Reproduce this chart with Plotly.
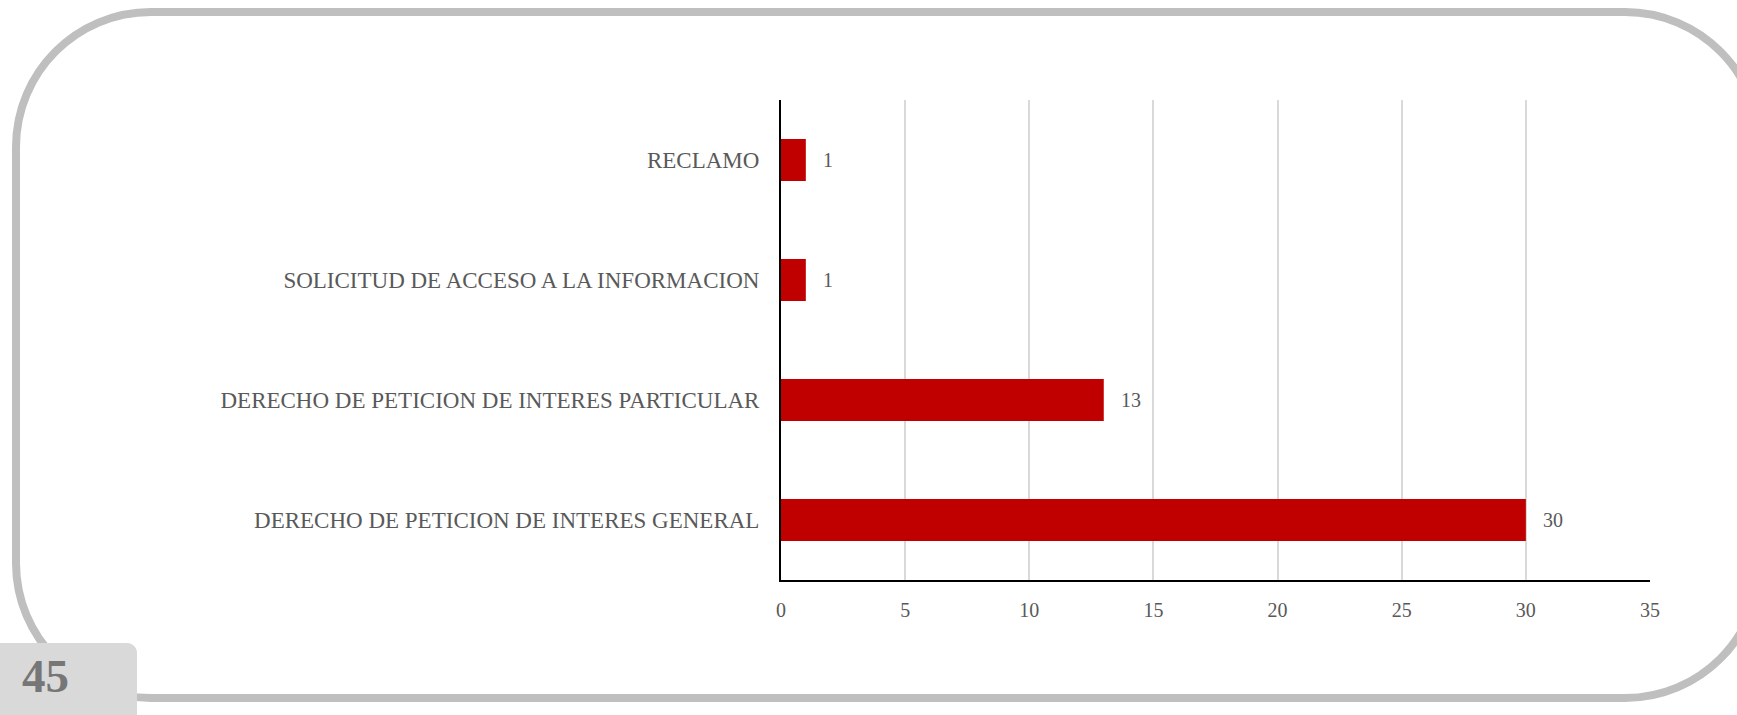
import plotly.graph_objects as go

categories = [
    "DERECHO DE PETICION DE INTERES GENERAL",
    "DERECHO DE PETICION DE INTERES PARTICULAR",
    "SOLICITUD DE ACCESO A LA INFORMACION",
    "RECLAMO",
]
values = [30, 13, 1, 1]
x_ticks = [0, 5, 10, 15, 20, 25, 30, 35]
page_number = "45"

W, H = 1737, 715
L, R, T, B = 781, 87, 100, 135
PW, PH = W - L - R, H - T - B
FONT = "Liberation Serif"
TXT = "#595959"


def px(x):
    return (x - L) / PW


def py(y):
    return (H - B - y) / PH


K = 0.5523


def rounded_path(x0, y0, x1, y1, r):
    pts = [
        f"M {px(x0 + r)},{py(y0)}",
        f"L {px(x1 - r)},{py(y0)}",
        f"C {px(x1 - r + K * r)},{py(y0)} {px(x1)},{py(y0 + r - K * r)} {px(x1)},{py(y0 + r)}",
        f"L {px(x1)},{py(y1 - r)}",
        f"C {px(x1)},{py(y1 - r + K * r)} {px(x1 - r + K * r)},{py(y1)} {px(x1 - r)},{py(y1)}",
        f"L {px(x0 + r)},{py(y1)}",
        f"C {px(x0 + r - K * r)},{py(y1)} {px(x0)},{py(y1 - r + K * r)} {px(x0)},{py(y1 - r)}",
        f"L {px(x0)},{py(y0 + r)}",
        f"C {px(x0)},{py(y0 + r - K * r)} {px(x0 + r - K * r)},{py(y0)} {px(x0 + r)},{py(y0)}",
        "Z",
    ]
    return " ".join(pts)


def tab_path(x0, y0, x1, y1, r):
    return " ".join([
        f"M {px(x0)},{py(y1)}",
        f"L {px(x0)},{py(y0)}",
        f"L {px(x1 - r)},{py(y0)}",
        f"C {px(x1 - r + K * r)},{py(y0)} {px(x1)},{py(y0 + r - K * r)} {px(x1)},{py(y0 + r)}",
        f"L {px(x1)},{py(y1)}",
        "Z",
    ])


fig = go.Figure(
    go.Bar(
        y=categories,
        x=values,
        orientation="h",
        marker=dict(color="#C00000", line=dict(width=0)),
        hoverinfo="x+y",
    )
)

annotations = [
    dict(
        x=v,
        y=c,
        xref="x",
        yref="y",
        text=str(v),
        showarrow=False,
        xanchor="left",
        yanchor="middle",
        xshift=15,
        font=dict(family=FONT, size=20, color=TXT),
    )
    for c, v in zip(categories, values)
]
annotations.append(
    dict(
        text=f"<b>{page_number}</b>",
        xref="paper",
        yref="paper",
        x=px(45),
        y=py(676),
        xanchor="center",
        yanchor="middle",
        showarrow=False,
        font=dict(family=FONT, size=47, color="#767676"),
    )
)

fig.update_layout(
    width=W,
    height=H,
    margin=dict(l=L, r=R, t=T, b=B, pad=0),
    paper_bgcolor="white",
    plot_bgcolor="white",
    bargap=0.65,
    showlegend=False,
    font=dict(family=FONT, color=TXT, size=20),
    xaxis=dict(
        range=[0, 35],
        tickvals=x_ticks,
        showgrid=True,
        gridcolor="#D9D9D9",
        gridwidth=2,
        zeroline=False,
        showline=True,
        linecolor="black",
        linewidth=2,
        ticks="",
        tickfont=dict(family=FONT, size=20, color=TXT),
        ticklabelstandoff=11,
        fixedrange=True,
    ),
    yaxis=dict(
        showgrid=False,
        zeroline=False,
        showline=True,
        linecolor="black",
        linewidth=2,
        ticks="",
        tickfont=dict(family=FONT, size=23, color=TXT),
        ticklabelstandoff=15,
        fixedrange=True,
    ),
    shapes=[
        dict(
            type="path",
            xref="paper",
            yref="paper",
            path=rounded_path(16, 12, 1760, 698, 135),
            line=dict(color="#BFBFBF", width=8),
            fillcolor="rgba(0,0,0,0)",
            layer="below",
        ),
        dict(
            type="path",
            xref="paper",
            yref="paper",
            path=tab_path(0, 643, 137, 740, 10),
            line=dict(width=0),
            fillcolor="#D9D9D9",
            layer="above",
        ),
    ],
    annotations=annotations,
)

fig.write_html(
    "out.html",
    config={"displayModeBar": False},
    post_script="document.body.style.margin='0';document.body.style.overflow='hidden';",
)
